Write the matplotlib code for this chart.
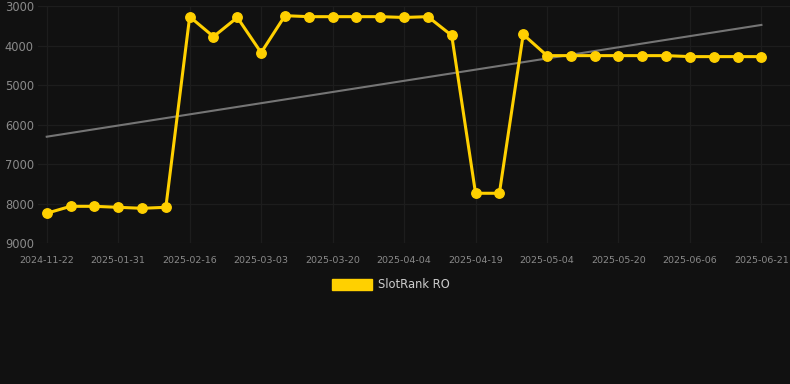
import numpy as np
import matplotlib
matplotlib.use("Agg")
import matplotlib.pyplot as plt
from matplotlib.patches import Patch

# ранги по дням (ось Y перевёрнута)
dates = ["2024-11-22", "2025-01-31", "2025-02-16", "2025-03-03", "2025-03-20",
         "2025-04-04", "2025-04-19", "2025-05-04", "2025-05-20", "2025-06-06",
         "2025-06-21"]
rank = [8240, 8065, 8065, 8090, 8115, 8090,
        3270, 3775, 3290, 4180, 3245, 3270, 3270, 3270, 3270, 3290, 3270, 3745,
        7735, 7735, 3720,
        4255, 4255, 4255, 4255, 4255, 4255, 4280, 4280, 4280, 4280]
yticks = [3000, 4000, 5000, 6000, 7000, 8000, 9000]

bg = "#111111"
gold = "#FFD000"

x = np.arange(len(rank))
coef = np.polyfit(x, rank, 1)   # линия тренда
trend = np.polyval(coef, x)

fig = plt.figure(figsize=(7.9, 3.84), dpi=100, facecolor=bg)
ax = fig.add_axes([0.048, 0.3664, 0.952, 0.6180])
ax.set_facecolor(bg)

ax.plot(x, trend, color="#757575", lw=1.5, zorder=2)
ax.plot(x, rank, color=gold, lw=2.2, marker="o", ms=6.8, zorder=3)

ax.set_ylim(9000, 3000)
ax.set_yticks(yticks)
ax.set_xlim(-0.37, 31.2)
ax.set_xticks(x[::3])
ax.set_xticklabels(dates)

ax.grid(True, color="#1d1d1d", lw=0.9)
ax.set_axisbelow(True)
for s in ax.spines.values():
    s.set_visible(False)
ax.tick_params(axis="y", length=0, pad=3, labelsize=8.3, labelcolor="#8a8a8a")
ax.tick_params(axis="x", length=0, pad=9, labelsize=6.8, labelcolor="#8a8a8a")

fig.legend(handles=[Patch(color=gold, label="SlotRank RO")],
           loc="center", bbox_to_anchor=(0.495, 0.258), frameon=False,
           handlelength=3.4, handleheight=1.0, handletextpad=0.55,
           fontsize=8.3, labelcolor="#cccccc")

plt.savefig("out.png", dpi=100, facecolor=bg)
